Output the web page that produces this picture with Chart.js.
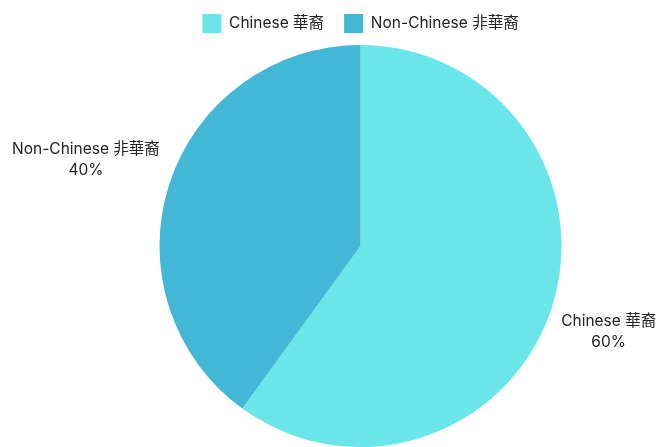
<!DOCTYPE html>
<html>
<head>
<meta charset="utf-8">
<script src="https://cdn.jsdelivr.net/npm/chart.js@4/dist/chart.umd.min.js"></script>
<style>
  html, body { margin: 0; padding: 0; background: #fff; }
  #wrap { width: 662px; height: 447px; }
</style>
</head>
<body>
<div id="wrap"><canvas id="pieChart"></canvas></div>
<script>
const labels = ['Chinese 華裔', 'Non-Chinese 非華裔'];
const shares = [60, 40];
const colors = ['#6be6e8', '#42b8d6'];

const fontFamily = "Inter, 'Noto Sans CJK TC', sans-serif";
const fontSize = 15.5;

// outside labels: name + percent, pushed off the rim
const outsideLabels = {
    id: 'outsideLabels',
    afterDatasetsDraw(chart) {
        const ctx = chart.ctx;
        const meta = chart.getDatasetMeta(0);
        ctx.save();
        ctx.font = fontSize + 'px ' + fontFamily;
        ctx.fillStyle = '#222';
        ctx.textAlign = 'center';
        ctx.textBaseline = 'middle';
        meta.data.forEach((arc, i) => {
            const mid = (arc.startAngle + arc.endAngle) / 2;
            const vx = Math.cos(mid), vy = Math.sin(mid);
            const lines = [labels[i], shares[i] + '%'];
            const lineH = 21;
            const w = Math.max(...lines.map(t => ctx.measureText(t).width));
            const h = lineH * lines.length;
            const ax = arc.x + vx * (arc.outerRadius + 10);
            const ay = arc.y + vy * (arc.outerRadius + 10);
            const cx = ax + Math.sign(vx) * w / 2;
            const cy = ay + Math.sign(vy) * h / 2;
            lines.forEach((t, k) => {
                ctx.fillText(t, cx, cy - h / 2 + lineH * (k + 0.5));
            });
        });
        ctx.restore();
    }
};

// a little extra room under the legend before the pie starts
const legendGap = {
    id: 'legendGap',
    beforeInit(chart) {
        const fit = chart.legend.fit;
        chart.legend.fit = function () {
            fit.bind(chart.legend)();
            this.height += 2;
        };
    }
};

const ctx = document.getElementById('pieChart').getContext('2d');
const pieChart = new Chart(ctx, {
    type: 'pie',
    data: {
        labels: labels,
        datasets: [{
            data: shares,
            backgroundColor: colors,
            borderWidth: 0
        }]
    },
    options: {
        responsive: true,
        maintainAspectRatio: false,
        animation: false,
        layout: { padding: { left: 59, right: 0, top: -6, bottom: 0 } },
        plugins: {
            legend: {
                position: 'top',
                labels: {
                    boxWidth: 19,
                    boxHeight: 19,
                    padding: 20,
                    color: '#222',
                    font: { family: fontFamily, size: fontSize }
                }
            },
            tooltip: { enabled: false }
        }
    },
    plugins: [outsideLabels, legendGap]
});
</script>
</body>
</html>
